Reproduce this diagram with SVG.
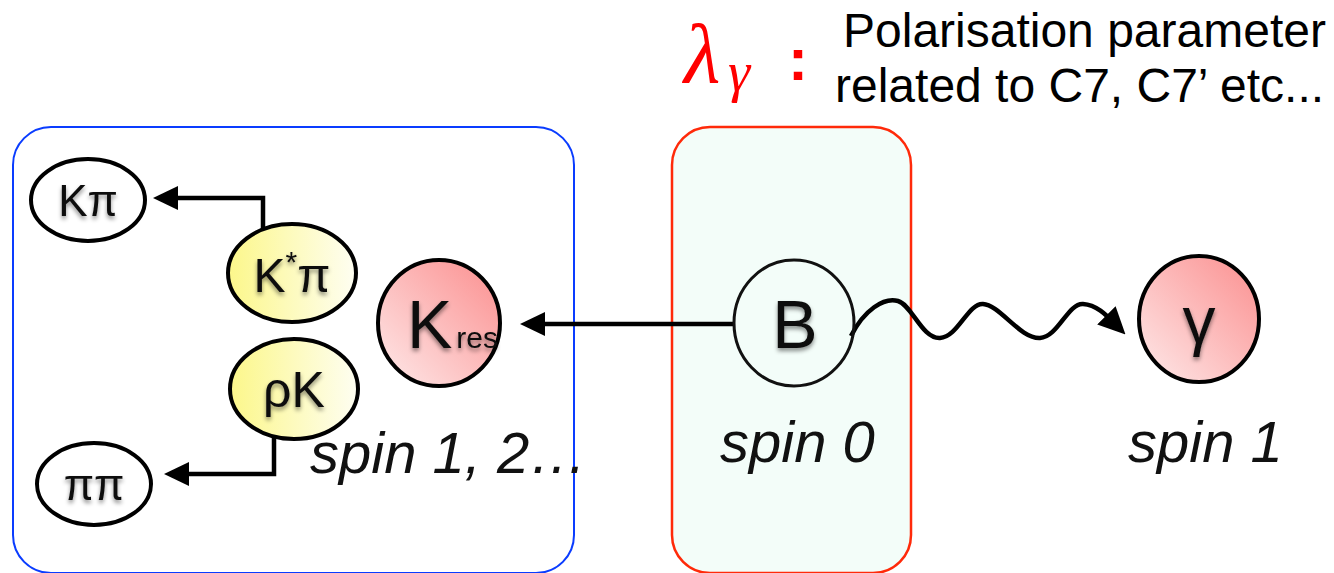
<svg xmlns="http://www.w3.org/2000/svg" width="1334" height="573" viewBox="0 0 1334 573">
  <style>
    .lbl { font-family: "Liberation Sans", "DejaVu Sans", sans-serif; fill: #111; filter: url(#shadow); }
    .spin { font-family: "Liberation Sans", "DejaVu Sans", sans-serif; font-style: italic; font-size: 58px; fill: #111; }
    .head { font-family: "Liberation Sans", "DejaVu Sans", sans-serif; font-size: 48px; fill: #000; }
    .node { stroke: #000; stroke-width: 4; }
    .conn { fill: none; stroke: #000; stroke-width: 4.5; }
  </style>
  <defs>
    <filter id="shadow" x="-20%" y="-20%" width="140%" height="150%">
      <feGaussianBlur in="SourceAlpha" stdDeviation="2.2"/>
      <feOffset dx="0" dy="3" result="b"/>
      <feFlood flood-color="#000" flood-opacity="0.45"/>
      <feComposite in2="b" operator="in" result="s"/>
      <feMerge><feMergeNode in="s"/><feMergeNode in="SourceGraphic"/></feMerge>
    </filter>
    <linearGradient id="yellow" x1="0" y1="0" x2="1" y2="0">
      <stop offset="0" stop-color="#fcf78a"/>
      <stop offset="1" stop-color="#fefef2"/>
    </linearGradient>
    <linearGradient id="pink" x1="1" y1="0" x2="0" y2="1">
      <stop offset="0" stop-color="#fb8e8e"/>
      <stop offset="1" stop-color="#feeaea"/>
    </linearGradient>
    <marker id="arrow" viewBox="0 0 25 24" refX="15" refY="12" markerWidth="25" markerHeight="24" markerUnits="userSpaceOnUse" orient="auto">
      <path d="M0,0 L25,12 L0,24 z" fill="#000"/>
    </marker>
    <marker id="arrow-wave" viewBox="0 0 27 26" refX="15" refY="13" markerWidth="27" markerHeight="26" markerUnits="userSpaceOnUse" orient="auto">
      <path d="M0,0 L27,13 L0,26 z" fill="#000"/>
    </marker>
  </defs>

  <g id="box-resonances">
    <rect x="13" y="127" width="561" height="446" rx="38" fill="#fff" stroke="#0a3cff" stroke-width="2"/>
  </g>
  <g id="box-B">
    <rect x="672" y="127" width="239" height="446" rx="38" fill="#f3fdf9" stroke="#ff2a0a" stroke-width="2.5"/>
  </g>

  <g id="header">
    <text x="684" y="82" font-family="'Liberation Serif', 'DejaVu Serif', serif" font-style="italic" font-size="84" fill="#ff0000">λ</text>
    <text x="728" y="91" font-family="'Liberation Serif', 'DejaVu Serif', serif" font-style="italic" font-size="56" fill="#ff0000">γ</text>
    <text x="798" y="80" text-anchor="middle" font-family="'Liberation Sans', sans-serif" font-weight="bold" font-size="60" fill="#ff0000">:</text>
    <text class="head" x="843" y="47">Polarisation parameter</text>
    <text class="head" x="835" y="102">related to C7, C7’ etc...</text>
  </g>

  <g id="connectors">
    <path class="conn" d="M263,252 V198 H163" marker-end="url(#arrow)"/>
    <path class="conn" d="M274,420 V474 H174" marker-end="url(#arrow)"/>
    <path class="conn" d="M734,324 H530" marker-end="url(#arrow)"/>
    <path class="conn" stroke-width="5" d="M851,336 C864,310 884,297 898,301 C912,305 922,339 940,338 C958,337 968,303 983,304 C1000,305 1020,339 1040,338 C1058,337 1068,303 1083,304 C1098,305 1108,317 1117,326" marker-end="url(#arrow-wave)"/>
  </g>

  <g id="node-Kpi">
    <ellipse class="node" cx="88" cy="200" rx="57" ry="41" fill="#fff"/>
    <text class="lbl" x="88" y="216" text-anchor="middle" font-size="44">Kπ</text>
  </g>
  <g id="node-Kstarpi">
    <ellipse class="node" cx="292" cy="273" rx="64" ry="49" fill="url(#yellow)"/>
    <text class="lbl" x="292" y="292" text-anchor="middle" font-size="48">K<tspan font-size="30" dy="-20">*</tspan><tspan dy="20">π</tspan></text>
  </g>
  <g id="node-rhoK">
    <ellipse class="node" cx="294" cy="389" rx="64" ry="50" fill="url(#yellow)"/>
    <text class="lbl" x="294" y="407" text-anchor="middle" font-size="50">ρK</text>
  </g>
  <g id="node-pipi">
    <ellipse class="node" cx="94" cy="484" rx="57" ry="41" fill="#fff"/>
    <text class="lbl" x="94" y="500" text-anchor="middle" font-size="44">ππ</text>
  </g>
  <g id="node-Kres">
    <ellipse class="node" cx="439" cy="323" rx="61" ry="63" fill="url(#pink)"/>
    <text class="lbl" x="407" y="348" font-size="68">K<tspan font-size="30" dx="4">res</tspan></text>
  </g>
  <g id="node-B">
    <ellipse cx="794" cy="323" rx="60" ry="63" fill="none" stroke="#111" stroke-width="3"/>
    <text class="lbl" x="795" y="348" text-anchor="middle" font-size="68">B</text>
  </g>
  <g id="node-gamma">
    <ellipse class="node" cx="1199" cy="319" rx="60" ry="63" fill="url(#pink)"/>
    <text class="lbl" x="1199" y="343" text-anchor="middle" font-size="66">γ</text>
  </g>

  <g id="labels">
    <text class="spin" x="310" y="473">spin 1, 2…</text>
    <text class="spin" x="720" y="462">spin 0</text>
    <text class="spin" x="1128" y="462">spin 1</text>
  </g>
</svg>
